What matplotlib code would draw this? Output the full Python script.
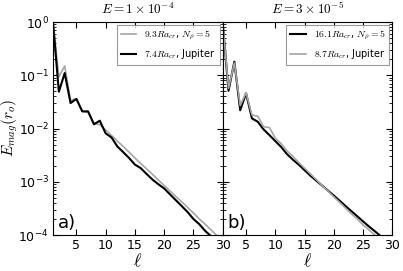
import numpy as np
import matplotlib
matplotlib.use('Agg')
import matplotlib.pyplot as plt

plt.rcParams['mathtext.fontset'] = 'cm'

# spherical harmonic degree
ell = [1, 2, 3, 4, 5, 6, 7, 8, 9, 10, 11, 12, 13, 14, 15,
       16, 17, 18, 19, 20, 21, 22, 23, 24, 25, 26, 27, 28, 29, 30]

# panel a)  E = 1e-4
a_np5 = [1.0, 0.093, 0.15, 0.034, 0.036, 0.021, 0.02, 0.0125, 0.0118, 0.0094,
         0.0074, 0.0058, 0.0046, 0.0036, 0.0028, 0.0022, 0.00175, 0.00138, 0.00108, 0.00085,
         0.00067, 0.00053, 0.00042, 0.00033, 0.00026, 0.0002, 0.00016, 0.000125, 0.000098, 0.000078]
a_jup = [1.0, 0.049, 0.11, 0.030, 0.036, 0.021, 0.021, 0.012, 0.014, 0.0081,
         0.0068, 0.0046, 0.0036, 0.0028, 0.0021, 0.0018, 0.0014, 0.0011, 0.0009, 0.00075,
         0.00058, 0.00045, 0.00035, 0.00027, 0.0002, 0.00016, 0.00012, 0.000095, 0.000072, 0.000055]

# panel b)  E = 3e-5
b_np5 = [1.0, 0.051, 0.18, 0.022, 0.046, 0.0155, 0.0134, 0.0096, 0.0075, 0.0058,
         0.0045, 0.0033, 0.0026, 0.0021, 0.00165, 0.0013, 0.00105, 0.00085, 0.00068, 0.00055,
         0.00044, 0.00035, 0.00028, 0.000225, 0.00018, 0.000145, 0.000118, 0.0000955, 0.000077, 0.000062]
b_jup = [1.0, 0.057, 0.17, 0.027, 0.047, 0.018, 0.017, 0.0108, 0.0104, 0.0066,
         0.0052, 0.0038, 0.003, 0.0023, 0.0018, 0.0014, 0.0011, 0.00085, 0.00067, 0.00052,
         0.00041, 0.00032, 0.00025, 0.0002, 0.000155, 0.000125, 0.0001, 0.00008, 0.000063, 0.00005]

xticks = [5, 10, 15, 20, 25, 30]
gray = '#a6a6a6'

fig = plt.figure(figsize=(4.03, 2.71), dpi=100)
ax1 = fig.add_axes([0.1315, 0.1328, 0.421, 0.786])
ax2 = fig.add_axes([0.5525, 0.1328, 0.421, 0.786], sharey=ax1)

# panel a
ax1.semilogy(ell, a_np5, color=gray, lw=1.2, label=r'$9.3Ra_{cr}$, $N_\rho=5$')
ax1.semilogy(ell, a_jup, color='k', lw=1.5, label=r'$7.4Ra_{cr}$, Jupiter')
ax1.set_title(r'$E=1\times10^{-4}$', fontsize=9.5, pad=6)
ax1.set_ylabel(r'$E_{mag}(r_o)$', fontsize=11)
ax1.yaxis.set_label_coords(-0.195, 0.5)
ax1.text(0.03, 0.035, 'a)', transform=ax1.transAxes, fontsize=13)

# panel b
ax2.semilogy(ell, b_np5, color='k', lw=1.5, label=r'$16.1Ra_{cr}$, $N_\rho=5$')
ax2.semilogy(ell, b_jup, color=gray, lw=1.2, label=r'$8.7Ra_{cr}$, Jupiter')
ax2.set_title(r'$E=3\times10^{-5}$', fontsize=9.5, pad=6)
ax2.text(0.03, 0.035, 'b)', transform=ax2.transAxes, fontsize=13)
plt.setp(ax2.get_yticklabels(), visible=False)

for ax in [ax1, ax2]:
    ax.set_xlim(1, 30)
    ax.set_ylim(1e-4, 1)
    ax.set_xticks(xticks)
    ax.set_xlabel(r'$\ell$', fontsize=13, labelpad=0)
    ax.tick_params(which='both', direction='in', top=True, right=True, labelsize=9, pad=3)
    ax.tick_params(which='major', length=4)
    ax.tick_params(which='minor', length=2)
    leg = ax.legend(loc='upper right', fontsize=7, handlelength=1.6,
                    fancybox=False, borderaxespad=0.3)
    leg.get_frame().set_edgecolor('0.5')
    leg.get_frame().set_linewidth(0.8)

fig.savefig('out.png', dpi=100)
